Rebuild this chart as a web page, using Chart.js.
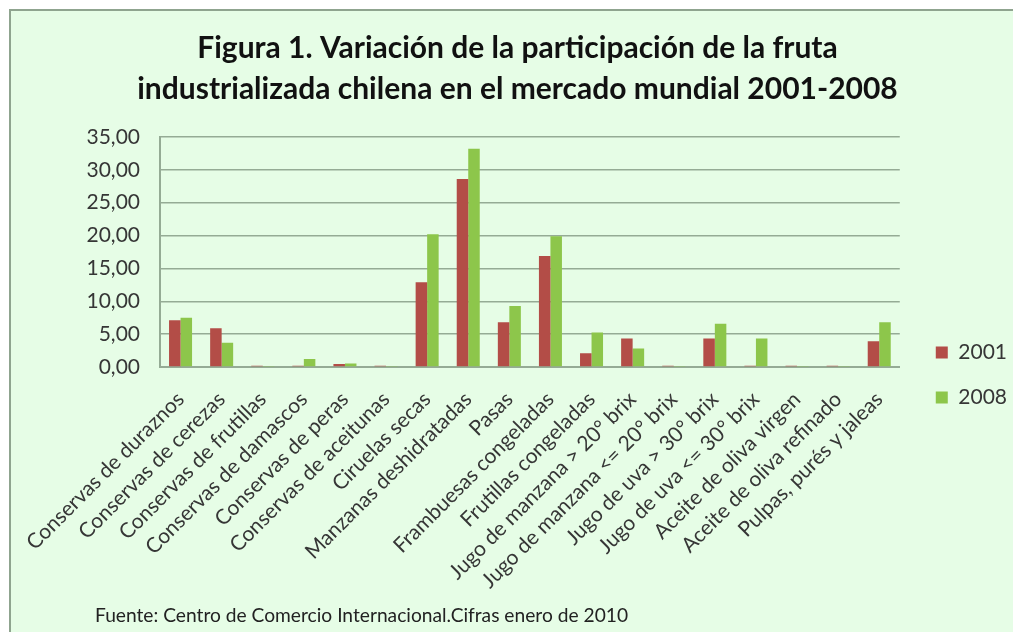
<!DOCTYPE html>
<html lang="es">
<head>
<meta charset="utf-8">
<title>Figura 1</title>
<script src="https://cdn.jsdelivr.net/npm/chart.js@4/dist/chart.umd.min.js"></script>
<style>
  html, body { margin: 0; padding: 0; background: #fff; }
  #frame {
    position: absolute; left: 9px; top: 9px; width: 1020px; height: 640px;
    background: #e6fde6;
    border-top: 2px solid #8fa48f; border-left: 2px solid #8fa48f;
  }
  #wrap { position: absolute; left: 0; top: 0; width: 1013px; height: 632px; }
  #source {
    position: absolute; left: 95px; top: 603px;
    font: 19.2px Lato, "Open Sans", sans-serif; color: #222;
  }
</style>
</head>
<body>
<div id="frame"></div>
<div id="wrap"><canvas id="chart" width="1013" height="632"></canvas></div>
<div id="source">Fuente: Centro de Comercio Internacional.Cifras enero de 2010</div>
<script>
'use strict';

const categories = [
  'Conservas de duraznos', 'Conservas de cerezas', 'Conservas de frutillas',
  'Conservas de damascos', 'Conservas de peras', 'Conservas de aceitunas',
  'Ciruelas secas', 'Manzanas deshidratadas', 'Pasas', 'Frambuesas congeladas',
  'Frutillas congeladas', 'Jugo de manzana > 20° brix', 'Jugo de manzana <= 20° brix',
  'Jugo de uva > 30° brix', 'Jugo de uva <= 30° brix', 'Aceite de oliva virgen',
  'Aceite de oliva refinado', 'Pulpas, purés y jaleas'
];
const values2001 = [7.1, 5.9, 0.2, 0.2, 0.45, 0.2, 12.9, 28.6, 6.8, 16.9, 2.1, 4.35, 0.2, 4.35, 0.2, 0.2, 0.2, 3.9];
const values2008 = [7.5, 3.7, 0.15, 1.2, 0.55, 0.15, 20.2, 33.2, 9.3, 19.9, 5.25, 2.8, 0.15, 6.6, 4.35, 0.15, 0.15, 6.8];
const seriesNames = ['2001', '2008'];
const yTicks = [0, 5, 10, 15, 20, 25, 30, 35];

const FONT = 'Lato, "Open Sans", sans-serif';
const TEXT = '#363636';
const GRID = '#95ab95';

const fmtComma = v => v.toFixed(2).replace('.', ',');

// legend sits lower and a little further right than Chart.js puts it
const legendNudge = {
  id: 'legendNudge',
  afterLayout(chart) {
    const lg = chart.legend;
    if (!lg) return;
    lg.top = 225;
    lg.bottom = 525;
    lg.left += 12;
    lg.right += 12;
  },
};

new Chart(document.getElementById('chart'), {
  type: 'bar',
  data: {
    labels: categories,
    datasets: [
      { label: seriesNames[0], data: values2001, backgroundColor: '#b34d47' },
      { label: seriesNames[1], data: values2008, backgroundColor: '#8dc64b' },
    ],
  },
  plugins: [legendNudge],
  options: {
    responsive: false,
    animation: false,
    datasets: { bar: { categoryPercentage: 0.56, barPercentage: 1.0 } },
    layout: { padding: { left: 30, right: 8, top: 0, bottom: 0 } },
    plugins: {
      title: {
        display: true,
        text: ['Figura 1. Variación de la participación de la fruta',
               'industrializada chilena en el mercado mundial 2001-2008'],
        font: { family: FONT, size: 30, weight: 'bold', lineHeight: 1.367 },
        color: '#111',
        padding: { top: 28, bottom: 27 },
      },
      legend: {
        position: 'right',
        labels: {
          boxWidth: 12, boxHeight: 12, padding: 24,
          color: TEXT, font: { family: FONT, size: 21 },
        },
      },
      tooltip: { enabled: false },
    },
    scales: {
      x: {
        afterFit: s => { s.height = 265; },
        grid: { display: false },
        border: { display: true, color: GRID, width: 2 },
        ticks: {
          minRotation: 45, maxRotation: 45, autoSkip: false, padding: 12,
          color: TEXT, font: { family: FONT, size: 21 },
        },
      },
      y: {
        min: 0, max: 35,
        afterBuildTicks: s => { s.ticks = yTicks.map(v => ({ value: v })); },
        afterFit: s => { s.width = 130; },
        grid: { color: GRID, lineWidth: 1.5, drawTicks: false },
        border: { display: true, color: GRID, width: 2 },
        ticks: {
          padding: 20, color: TEXT, font: { family: FONT, size: 21 },
          callback: v => fmtComma(v),
        },
      },
    },
  },
});
</script>
</body>
</html>
